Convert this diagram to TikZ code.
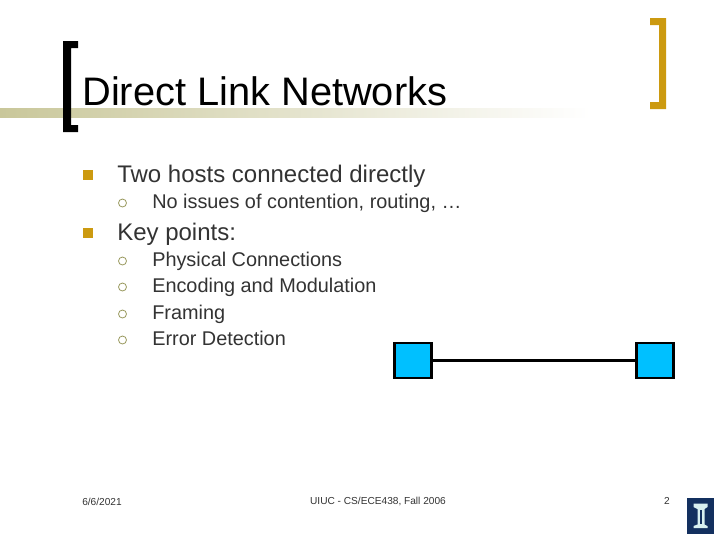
\documentclass[tikz,border=0pt]{standalone}
\usepackage{fontspec}
\setmainfont{Liberation Sans}
\definecolor{barolive}{HTML}{C9C79A}
\definecolor{bulletgold}{HTML}{CC9A10}
\definecolor{circolive}{HTML}{9A9A60}
\definecolor{hostblue}{HTML}{00C0FF}
\definecolor{bodygrey}{HTML}{333333}
\definecolor{logonavy}{HTML}{13305F}
\definecolor{logopale}{HTML}{D8F0F0}
\begin{document}
\begin{tikzpicture}[x=0.75pt,y=-0.75pt]
    \tikzset{
	title/.style={anchor=base west,inner sep=0,font=\fontsize{29.85}{30}\selectfont},
	itemone/.style={anchor=base west,inner sep=0,text=bodygrey,font=\fontsize{18}{20}\selectfont},
	itemtwo/.style={anchor=base west,inner sep=0,text=bodygrey,font=\fontsize{14.9}{18}\selectfont},
	foot/.style={inner sep=0,text=bodygrey,font=\fontsize{7.6}{9}\selectfont},
	host/.style={draw=black,line width=1.8pt,fill=hostblue,minimum width=27.5pt,minimum height=26pt,inner sep=0}
    }
    \useasboundingbox (0,0) rectangle (720,540);
    \fill [white] (0,0) rectangle (720,540);

    % bar and brackets
    \shade [left color=barolive,right color=white] (0,108) rectangle (590,117);
    \fill [black] (63,41) -- (78,41) -- (78,48) -- (71,48) -- (71,125) -- (78,125) -- (78,132) -- (63,132) -- cycle;
    \fill [bulletgold] (650,18) -- (666,18) -- (666,109) -- (650,109) -- (650,102) -- (659,102) -- (659,25) -- (650,25) -- cycle;

    \node [title] (head) at (82,105) {Direct Link Networks};

    % items
    \node [itemone] (two) at (117,182) {Two hosts connected directly};
    \node [itemtwo] (issues) at (152,208) {No issues of contention, routing, …};
    \node [itemone] (key) at (117,240) {Key points:};
    \node [itemtwo] (phys) at (152,266) {Physical Connections};
    \node [itemtwo] (enc) at (152,292) {Encoding and Modulation};
    \node [itemtwo] (frm) at (152,319) {Framing};
    \node [itemtwo] (err) at (152,345) {Error Detection};

    \foreach \y in {175,233}{
	\fill [bulletgold] (83,\y-5) rectangle (93,\y+5);
    }
    \foreach \y in {203,261,287,314,340}{
	\draw [circolive,line width=0.6pt] (122.5,\y) circle (4);
    }

    % hosts
    \node [host] (left) at (413,360.5) {};
    \node [host] (right) at (655,360.5) {};
    \draw [line width=2.2pt] (left) -- (right);

    % footer
    \node [foot,anchor=base west] (date) at (82,505) {6/6/2021};
    \node [foot] (course) at (378,501) {UIUC - CS/ECE438, Fall 2006};
    \node [foot] (page) at (667,501) {2};

    % logo
    \fill [logonavy] (687,498) rectangle (714,534);
    \fill [logopale] (693.5,503.5) -- (707.5,503.5) -- (707.5,507) -- (704.5,509) -- (704.5,524.5) -- (707.5,526) -- (707.5,528) -- (693.5,528) -- (693.5,526) -- (697.5,524.5) -- (697.5,509) -- (693.5,507) -- cycle;
    \fill [logonavy] (699.5,510) rectangle (701.5,524);
\end{tikzpicture}
\end{document}
